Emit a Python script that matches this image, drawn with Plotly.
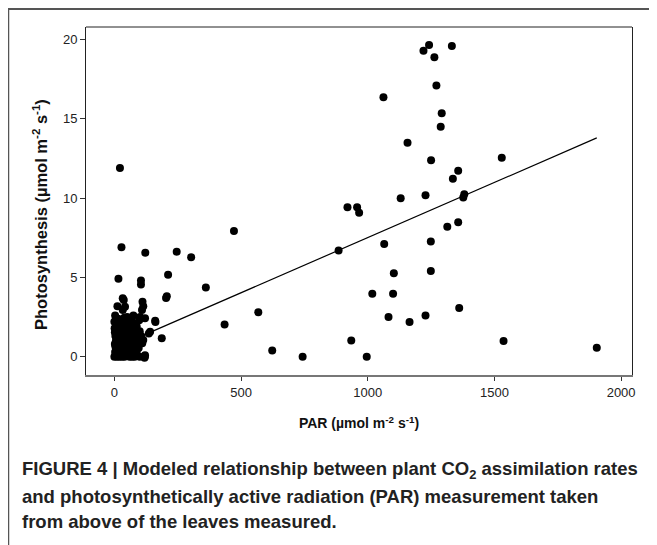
import plotly.graph_objects as go

# PAR (x) and photosynthesis (y) readings
par_values = [
    1242, 1220, 1332, 1263, 1271, 1062, 1292, 1288, 1157, 1250, 1529, 1357, 1336,
    22, 1381, 1377, 1228, 1130, 920, 958, 966, 1314, 1357, 472, 1249, 1065, 28,
    885, 122, 246, 303, 1103, 1249, 16, 212, 105, 105, 361, 1018, 1100, 204,
    1361, 568, 1082, 1228, 1165, 435, 162, 187, 935, 1536, 623, 1904, 743, 996,
    37, 109, 33, 119,
    # dense cluster near origin
    0, 5, 10, 15, 20, 25, 30, 40, 50, 60, 70, 80, 90, 100, 120,
    3, 8, 12, 18, 22, 28, 35, 45, 55, 65, 75, 88,
    2, 6, 14, 20, 26, 33, 42, 50, 60, 70, 85, 110, 114,
    4, 10, 16, 24, 30, 38, 48, 58, 68, 80, 95,
    1, 7, 12, 19, 27, 36, 42, 55, 65, 88, 100,
    0, 3, 15, 30, 50, 75, 101, 121, 161,
    12, 42, 114, 33, 111, 207, 141, 136, 121, 62, 48, 92,
    8, 18, 32, 46, 58, 72, 84, 96, 4, 14, 24, 36, 52, 66, 78, 92, 106,
    9, 21, 40, 54, 63, 77, 2, 11, 29, 45, 60, 82, 98, 6, 17, 39, 70,
]
photo_values = [
    19.64, 19.28, 19.58, 18.88, 17.1, 16.36, 15.34, 14.49, 13.49, 12.39, 12.54, 11.72, 11.22,
    11.9, 10.24, 10.03, 10.18, 9.99, 9.42, 9.42, 9.08, 8.2, 8.47, 7.93, 7.26, 7.1, 6.9,
    6.69, 6.56, 6.62, 6.27, 5.26, 5.4, 4.92, 5.17, 4.8, 4.56, 4.37, 3.97, 3.97, 3.7,
    3.07, 2.8, 2.5, 2.6, 2.19, 2.04, 2.19, 1.16, 1.03, 0.99, 0.4, 0.57, 0.0, 0.0,
    3.57, 2.94, 2.94, -0.06,
    0.0, 0.1, 0.0, 0.05, 0.0, 0.1, 0.0, 0.0, 0.05, 0.0, 0.0, 0.0, 0.05, 0.0, 0.0,
    0.3, 0.5, 0.2, 0.4, 0.6, 0.3, 0.5, 0.3, 0.4, 0.2, 0.3, 0.32,
    0.8, 1.0, 0.9, 1.1, 0.8, 1.0, 0.7, 0.9, 0.8, 1.0, 0.9, 0.85, 1.05,
    1.3, 1.5, 1.2, 1.4, 1.6, 1.3, 1.5, 1.2, 1.4, 1.3, 1.2,
    1.8, 2.0, 1.7, 1.9, 2.1, 1.8, 2.0, 1.7, 1.9, 1.9, 1.6,
    2.2, 2.6, 2.4, 2.3, 2.5, 2.6, 2.5, 2.43, 2.27,
    3.19, 3.15, 3.19, 3.68, 3.47, 3.82, 1.58, 1.47, 0.1, 2.45, 2.35, 0.6,
    0.15, 0.2, 0.15, 0.6, 0.1, 0.55, 0.15, 0.55, 0.65, 0.7, 0.35, 0.75, 1.15, 0.55, 0.6, 0.7, 1.3,
    1.15, 1.25, 1.1, 1.05, 1.6, 1.7, 1.55, 1.95, 1.45, 2.2, 2.25, 2.1, 2.3, 2.4, 2.2, 2.45, 2.2,
]

# fitted model line
fit_x = [0, 1904]
fit_y = [0.56, 13.79]

x_ticks = [0, 500, 1000, 1500, 2000]
y_ticks = [0, 5, 10, 15, 20]

x_title = "<b>PAR (µmol m<sup>-2</sup> s<sup>-1</sup>)</b>"
y_title = "<b>Photosynthesis (µmol m<sup>-2</sup> s<sup>-1</sup>)</b>"
caption_lines = [
    "<b>FIGURE 4 | Modeled relationship between plant CO<sub>2</sub> assimilation rates</b>",
    "<b>and photosynthetically active radiation (PAR) measurement taken</b>",
    "<b>from above of the leaves measured.</b>",
]

fig = go.Figure()
fig.add_trace(go.Scatter(
    x=par_values, y=photo_values, mode="markers",
    marker=dict(color="black", size=8, line=dict(width=0)),
    showlegend=False, hoverinfo="skip",
))
fig.add_trace(go.Scatter(
    x=fit_x, y=fit_y, mode="lines",
    line=dict(color="black", width=1.2),
    showlegend=False, hoverinfo="skip",
))

W, H = 657, 545
# page body has an 8px offset; margins compensate so the plot lands where the reference has it
L, R, T, B = 78, 33, 19, 178
pw, ph = W - L - R, H - T - B


def px(xs):
    # screen x -> paper x
    return (xs - 8 - L) / pw


def py(ys):
    # screen y -> paper y
    return (H - B - (ys - 8)) / ph


tick_font = dict(family="Liberation Sans, Arial, sans-serif", size=13, color="#222")
title_font = dict(family="Liberation Sans, Arial, sans-serif", size=14, color="#111")

fig.update_layout(
    width=W, height=H,
    margin=dict(l=L, r=R, t=T, b=B),
    paper_bgcolor="white", plot_bgcolor="white",
    xaxis=dict(
        range=[-112, 2043], tickvals=x_ticks, ticktext=[str(v) for v in x_ticks],
        showgrid=False, zeroline=False,
        showline=True, linecolor="#777", linewidth=2, mirror=False,
        ticks="outside", ticklen=4, tickcolor="#333", tickwidth=1,
        tickfont=tick_font,
        title=dict(text=x_title, font=title_font, standoff=20),
    ),
    yaxis=dict(
        range=[-1.15, 20.78], tickvals=y_ticks, ticktext=[str(v) for v in y_ticks],
        showgrid=False, zeroline=False,
        showline=True, linecolor="#222", linewidth=1, mirror=True,
        ticks="outside", ticklen=5, tickcolor="#333", tickwidth=1,
        tickfont=tick_font,
    ),
    shapes=[
        dict(type="line", xref="paper", yref="paper", x0=0, x1=1, y0=1, y1=1,
             line=dict(color="#222", width=1)),
        dict(type="line", xref="paper", yref="paper", x0=px(8), x1=px(670), y0=py(9), y1=py(9),
             line=dict(color="#555", width=2)),
        dict(type="line", xref="paper", yref="paper", x0=px(8.5), x1=px(8.5), y0=py(9), y1=py(560),
             line=dict(color="#555", width=1.5)),
    ],
)

fig.add_annotation(
    text=y_title, xref="paper", yref="paper", x=px(40), y=py(215),
    xanchor="center", yanchor="middle", textangle=-90, showarrow=False,
    font=dict(family="Liberation Sans, Arial, sans-serif", size=16.5, color="#111"),
)

cap_y = [470, 496, 521]
for txt, yy in zip(caption_lines, cap_y):
    fig.add_annotation(
        text=txt, xref="paper", yref="paper", x=px(20), y=py(yy),
        xanchor="left", yanchor="middle", showarrow=False,
        font=dict(family="Liberation Sans, Arial, sans-serif", size=18.5, color="#222"),
    )

fig.write_html("out.html")
